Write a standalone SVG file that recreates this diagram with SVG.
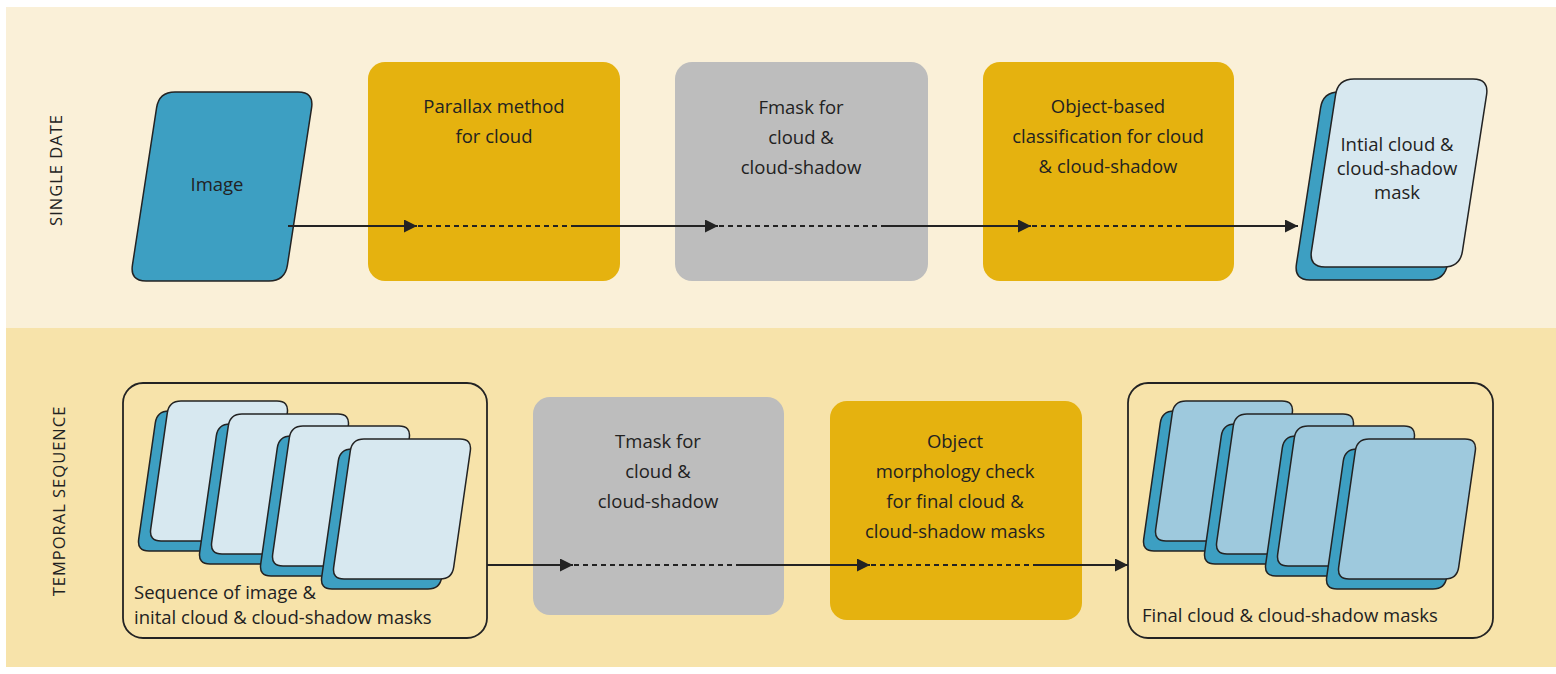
<svg xmlns="http://www.w3.org/2000/svg" xmlns:xlink="http://www.w3.org/1999/xlink" width="1556" height="674" viewBox="0 0 1556 674">
<style>
.t{font-family:"Open Sans","Liberation Sans",sans-serif;font-size:18.5px;fill:#222;text-anchor:middle}
.tl{font-family:"Open Sans","Liberation Sans",sans-serif;font-size:18.5px;fill:#222}
.side{font-family:"Open Sans","Liberation Sans",sans-serif;font-size:16.5px;fill:#222;text-anchor:middle;letter-spacing:1px}
.sheet{stroke:#232323;stroke-width:1.5}
.blue{fill:#3d9fc2}
.pale{fill:#d7e8f0}
.mid{fill:#9ec9dd}
.yel{fill:#e5b20f}
.gry{fill:#bdbdbd}
.ln{stroke:#232323;stroke-width:2;fill:none}
.dash{stroke:#232323;stroke-width:2;fill:none;stroke-dasharray:5 4}
.box{fill:none;stroke:#232323;stroke-width:1.8}
</style>
<defs>
<path id="big" d="M45,0 L164,0 Q180,0 177.56,15.81 L153.44,172.19 Q151,188 135,188 L16,188 Q0,188 2.44,172.19 L26.56,15.81 Q29,0 45,0 Z"/>
<path id="sm" d="M32,0 L128,0 Q140,0 138.3,11.88 L121.7,128.12 Q120,140 108,140 L12,140 Q0,140 1.7,128.12 L18.3,11.88 Q20,0 32,0 Z"/>
<marker id="ah" markerUnits="userSpaceOnUse" markerWidth="14" markerHeight="14" refX="13" refY="6.5" orient="auto">
<path d="M0,0 L13,6.5 L0,13 Z" fill="#232323"/>
</marker>
</defs>

<g id="bands">
<rect x="6" y="7" width="1550" height="321" fill="#faf0d8"/>
<rect x="6" y="328" width="1550" height="339" fill="#f7e3aa"/>
<text class="side" transform="translate(62,170) rotate(-90)">SINGLE DATE</text>
<text class="side" transform="translate(65,501) rotate(-90)">TEMPORAL SEQUENCE</text>
</g>

<g id="image">
<path class="sheet blue" d="M45,0 L168,0 Q184,0 181.57,15.8 L157.43,173.2 Q155,189 139,189 L16,189 Q0,189 2.43,173.2 L26.57,15.8 Q29,0 45,0 Z" transform="translate(130,92)"/>
<text class="t" x="217" y="191">Image</text>
</g>

<g id="parallax">
<rect class="yel" x="368" y="62" width="252" height="219" rx="17"/>
<text class="t" x="494" y="113">Parallax method</text>
<text class="t" x="494" y="143">for cloud</text>
</g>

<g id="fmask">
<rect class="gry" x="675" y="62" width="253" height="219" rx="17"/>
<text class="t" x="801" y="114">Fmask for</text>
<text class="t" x="801" y="144">cloud &amp;</text>
<text class="t" x="801" y="174">cloud-shadow</text>
</g>

<g id="objectbased">
<rect class="yel" x="983" y="62" width="251" height="219" rx="17"/>
<text class="t" x="1108" y="113">Object-based</text>
<text class="t" x="1108" y="143">classification for cloud</text>
<text class="t" x="1108" y="173">&amp; cloud-shadow</text>
</g>

<g id="initialmask">
<use href="#big" xlink:href="#big" class="sheet blue" transform="translate(1294,92)"/>
<use href="#big" xlink:href="#big" class="sheet pale" transform="translate(1309,79)"/>
<text class="t" x="1397" y="151">Intial cloud &amp;</text>
<text class="t" x="1397" y="175">cloud-shadow</text>
<text class="t" x="1397" y="199">mask</text>
</g>

<g id="sequence">
<rect class="box" x="123" y="383" width="364" height="255" rx="20"/>
<use href="#sm" xlink:href="#sm" class="sheet blue" transform="translate(137,411)"/>
<use href="#sm" xlink:href="#sm" class="sheet pale" transform="translate(149,401)"/>
<use href="#sm" xlink:href="#sm" class="sheet blue" transform="translate(198,424)"/>
<use href="#sm" xlink:href="#sm" class="sheet pale" transform="translate(210,414)"/>
<use href="#sm" xlink:href="#sm" class="sheet blue" transform="translate(259,436)"/>
<use href="#sm" xlink:href="#sm" class="sheet pale" transform="translate(271,426)"/>
<use href="#sm" xlink:href="#sm" class="sheet blue" transform="translate(320,449)"/>
<use href="#sm" xlink:href="#sm" class="sheet pale" transform="translate(332,439)"/>
<text class="tl" x="134" y="599">Sequence of image &amp;</text>
<text class="tl" x="134" y="624">inital cloud &amp; cloud-shadow masks</text>
</g>

<g id="tmask">
<rect class="gry" x="533" y="397" width="251" height="218" rx="17"/>
<text class="t" x="658" y="448">Tmask for</text>
<text class="t" x="658" y="478">cloud &amp;</text>
<text class="t" x="658" y="508">cloud-shadow</text>
</g>

<g id="morphology">
<rect class="yel" x="830" y="401" width="252" height="219" rx="17"/>
<text class="t" x="955" y="448">Object</text>
<text class="t" x="955" y="478">morphology check</text>
<text class="t" x="955" y="508">for final cloud &amp;</text>
<text class="t" x="955" y="538">cloud-shadow masks</text>
</g>

<g id="final">
<rect class="box" x="1128" y="383" width="365" height="255" rx="20"/>
<use href="#sm" xlink:href="#sm" class="sheet blue" transform="translate(1142,411)"/>
<use href="#sm" xlink:href="#sm" class="sheet mid" transform="translate(1154,401)"/>
<use href="#sm" xlink:href="#sm" class="sheet blue" transform="translate(1203,424)"/>
<use href="#sm" xlink:href="#sm" class="sheet mid" transform="translate(1215,414)"/>
<use href="#sm" xlink:href="#sm" class="sheet blue" transform="translate(1264,436)"/>
<use href="#sm" xlink:href="#sm" class="sheet mid" transform="translate(1276,426)"/>
<use href="#sm" xlink:href="#sm" class="sheet blue" transform="translate(1325,449)"/>
<use href="#sm" xlink:href="#sm" class="sheet mid" transform="translate(1337,439)"/>
<text class="tl" x="1142" y="622">Final cloud &amp; cloud-shadow masks</text>
</g>

<g id="connectors">
<line class="ln" x1="288" y1="226" x2="417" y2="226" marker-end="url(#ah)"/>
<line class="dash" x1="418" y1="226" x2="572" y2="226"/>
<line class="ln" x1="572" y1="226" x2="718" y2="226" marker-end="url(#ah)"/>
<line class="dash" x1="719" y1="226" x2="884" y2="226"/>
<line class="ln" x1="884" y1="226" x2="1031" y2="226" marker-end="url(#ah)"/>
<line class="dash" x1="1032" y1="226" x2="1188" y2="226"/>
<line class="ln" x1="1188" y1="226" x2="1298" y2="226" marker-end="url(#ah)"/>
<line class="ln" x1="487" y1="565" x2="573" y2="565" marker-end="url(#ah)"/>
<line class="dash" x1="574" y1="565" x2="740" y2="565"/>
<line class="ln" x1="740" y1="565" x2="870" y2="565" marker-end="url(#ah)"/>
<line class="dash" x1="871" y1="565" x2="1038" y2="565"/>
<line class="ln" x1="1038" y1="565" x2="1128" y2="565" marker-end="url(#ah)"/>
</g>
</svg>
